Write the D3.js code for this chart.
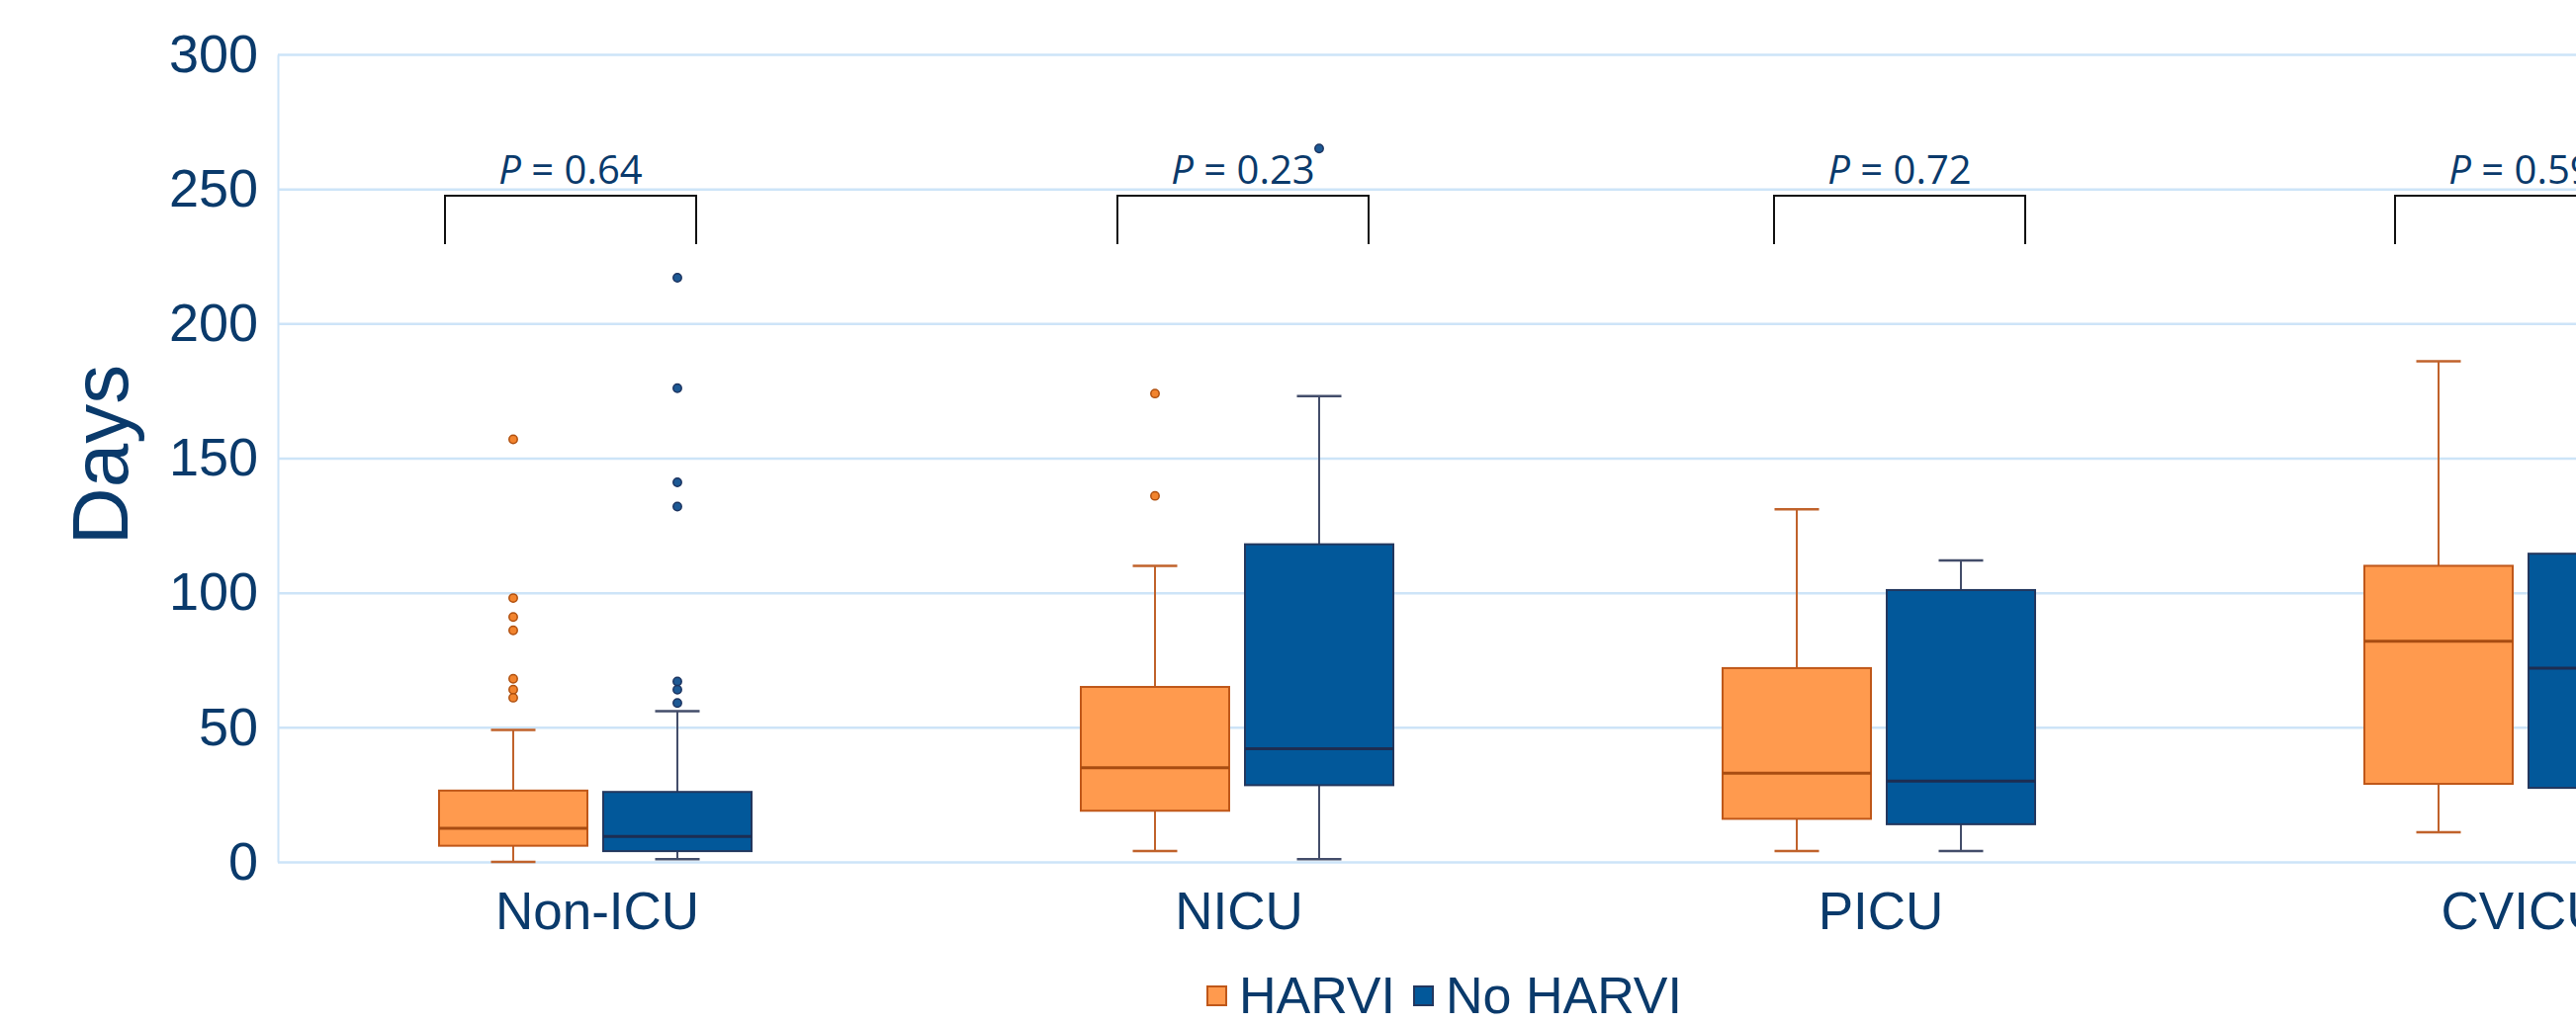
<!DOCTYPE html>
<html>
<head>
<meta charset="utf-8">
<script src="https://cdn.jsdelivr.net/npm/d3@7"></script>
<style>
  body { margin: 0; background: #fff; }
  svg { display: block; font-family: "Liberation Sans", Arial, sans-serif; }
</style>
</head>
<body>
<div id="chart"></div>
<script>
const categories = ['Non-ICU', 'NICU', 'PICU', 'CVICU'];
const series = ['HARVI', 'No HARVI'];
const yTicks = [0, 50, 100, 150, 200, 250, 300];
const pValues = ['0.64', '0.23', '0.72', '0.59'];

// box plot summaries per unit (days)
const harviLow = [0, 4, 4, 11];
const harviQ1 = [6, 19, 16, 29];
const harviMedian = [12.5, 35, 33, 82];
const harviQ3 = [26.5, 65, 72, 110];
const harviHigh = [49, 110, 131, 186];
const harviOutliers = [[157, 98, 91, 86, 68, 64, 61], [174, 136], [], []];

const noHarviLow = [1, 1, 4, 8];
const noHarviQ1 = [4, 28.5, 14, 27.5];
const noHarviMedian = [9.5, 42, 30, 72];
const noHarviQ3 = [26, 118, 101, 114.5];
const noHarviHigh = [56, 173, 112, 190];
const noHarviOutliers = [[217, 176, 141, 132, 67, 64, 59], [265], [], []];

const width = 2605, height = 1036;
const plotLeft = 281;
const textColor = '#0A3A6B';
const gridColor = '#CDE4F8';

const colors = {
  'HARVI': { fill: '#FF9A4E', stroke: '#BF5719', median: '#A84C12', whisker: '#C0622B', dot: '#F2842E', dotStroke: '#B0500F' },
  'No HARVI': { fill: '#02589A', stroke: '#23375E', median: '#1D2D52', whisker: '#434D6A', dot: '#1D5994', dotStroke: '#1B3360' }
};

const svg = d3.select('#chart')
  .append('svg')
  .attr('width', width)
  .attr('height', height)
  .style('background', '#fff');

const y = d3.scaleLinear().domain([0, 300]).range([872, 55]);

// one band per unit, the last one runs past the right edge
const x = d3.scaleBand()
  .domain(categories)
  .range([277.5, 277.5 + 649 * categories.length]);

const xSeries = d3.scalePoint().domain(series).range([-83, 83]);
const boxWidth = 150;
const capWidth = 45;

// gridlines + y tick labels
const yAxis = svg.append('g')
  .attr('transform', `translate(${plotLeft},0)`)
  .call(d3.axisLeft(y)
    .tickValues(yTicks)
    .tickFormat(d3.format('d'))
    .tickSize(-(width - plotLeft))
    .tickSizeOuter(0)
    .tickPadding(20));

yAxis.select('.domain').attr('stroke', gridColor).attr('stroke-width', 2);
yAxis.selectAll('.tick line').attr('stroke', gridColor).attr('stroke-width', 2.5);
yAxis.selectAll('.tick text')
  .attr('fill', textColor)
  .style('font-size', '54px');

// category labels
const xAxis = svg.append('g')
  .attr('transform', 'translate(2,0)')
  .call(d3.axisBottom(x).tickSize(0).tickPadding(0));

xAxis.select('.domain').remove();
xAxis.selectAll('.tick text')
  .attr('y', 940)
  .attr('dy', null)
  .attr('fill', textColor)
  .style('font-size', '53px');

// y axis title
svg.append('text')
  .attr('transform', 'translate(129,460) rotate(-90)')
  .attr('text-anchor', 'middle')
  .attr('fill', textColor)
  .style('font-size', '80px')
  .text('Days');

const boxes = [];
categories.forEach((cat, i) => {
  boxes.push({ cat, s: 'HARVI', low: harviLow[i], q1: harviQ1[i], med: harviMedian[i], q3: harviQ3[i], high: harviHigh[i], out: harviOutliers[i] });
  boxes.push({ cat, s: 'No HARVI', low: noHarviLow[i], q1: noHarviQ1[i], med: noHarviMedian[i], q3: noHarviQ3[i], high: noHarviHigh[i], out: noHarviOutliers[i] });
});

const boxG = svg.selectAll('.box')
  .data(boxes)
  .enter()
  .append('g')
  .attr('class', 'box')
  .attr('transform', d => `translate(${x(d.cat) + x.bandwidth() / 2 + xSeries(d.s)},0)`);

boxG.append('line')
  .attr('x1', 0).attr('x2', 0)
  .attr('y1', d => y(d.low))
  .attr('y2', d => y(d.high))
  .attr('stroke', d => colors[d.s].whisker)
  .attr('stroke-width', 2);

boxG.selectAll('.cap')
  .data(d => [d.low, d.high].map(v => ({ v, s: d.s })))
  .enter()
  .append('line')
  .attr('class', 'cap')
  .attr('x1', -capWidth / 2).attr('x2', capWidth / 2)
  .attr('y1', d => y(d.v)).attr('y2', d => y(d.v))
  .attr('stroke', d => colors[d.s].whisker)
  .attr('stroke-width', 2.5);

boxG.append('rect')
  .attr('x', -boxWidth / 2)
  .attr('width', boxWidth)
  .attr('y', d => y(d.q3))
  .attr('height', d => y(d.q1) - y(d.q3))
  .attr('fill', d => colors[d.s].fill)
  .attr('stroke', d => colors[d.s].stroke)
  .attr('stroke-width', 2);

boxG.append('line')
  .attr('x1', -boxWidth / 2).attr('x2', boxWidth / 2)
  .attr('y1', d => y(d.med)).attr('y2', d => y(d.med))
  .attr('stroke', d => colors[d.s].median)
  .attr('stroke-width', 3);

boxG.selectAll('.outlier')
  .data(d => d.out.map(v => ({ v, s: d.s })))
  .enter()
  .append('circle')
  .attr('class', 'outlier')
  .attr('cx', 0)
  .attr('cy', d => y(d.v))
  .attr('r', 4.2)
  .attr('fill', d => colors[d.s].dot)
  .attr('stroke', d => colors[d.s].dotStroke)
  .attr('stroke-width', 1.5);

// significance brackets
const bracketNudge = [-25, 6, 21, 0];
const bracketHalf = 127;

const pG = svg.selectAll('.pval')
  .data(pValues)
  .enter()
  .append('g')
  .attr('class', 'pval')
  .attr('transform', (d, i) => `translate(${x(categories[i]) + x.bandwidth() / 2 + bracketNudge[i]},0)`);

pG.append('path')
  .attr('d', `M${-bracketHalf},${y(229.5)}V${y(247.5)}H${bracketHalf}V${y(229.5)}`)
  .attr('fill', 'none')
  .attr('stroke', '#111')
  .attr('stroke-width', 2);

const pText = pG.append('text')
  .attr('y', y(252))
  .attr('text-anchor', 'middle')
  .attr('fill', textColor)
  .style('font-family', '"Open Sans", "Noto Sans", sans-serif')
  .style('font-size', '40px');

pText.append('tspan').style('font-style', 'italic').text('P');
pText.append('tspan').text(d => ` = ${d}`);

// legend
const legend = svg.append('g').attr('transform', 'translate(1220,1025)');
let lx = 0;
series.forEach(s => {
  legend.append('rect')
    .attr('x', lx + 1)
    .attr('y', -27)
    .attr('width', 19)
    .attr('height', 19)
    .attr('fill', colors[s].fill)
    .attr('stroke', colors[s].stroke)
    .attr('stroke-width', 2);
  const t = legend.append('text')
    .attr('x', lx + 33)
    .attr('fill', textColor)
    .style('font-size', '52px')
    .text(s);
  lx += 33 + t.node().getComputedTextLength() + 18;
});
</script>
</body>
</html>
